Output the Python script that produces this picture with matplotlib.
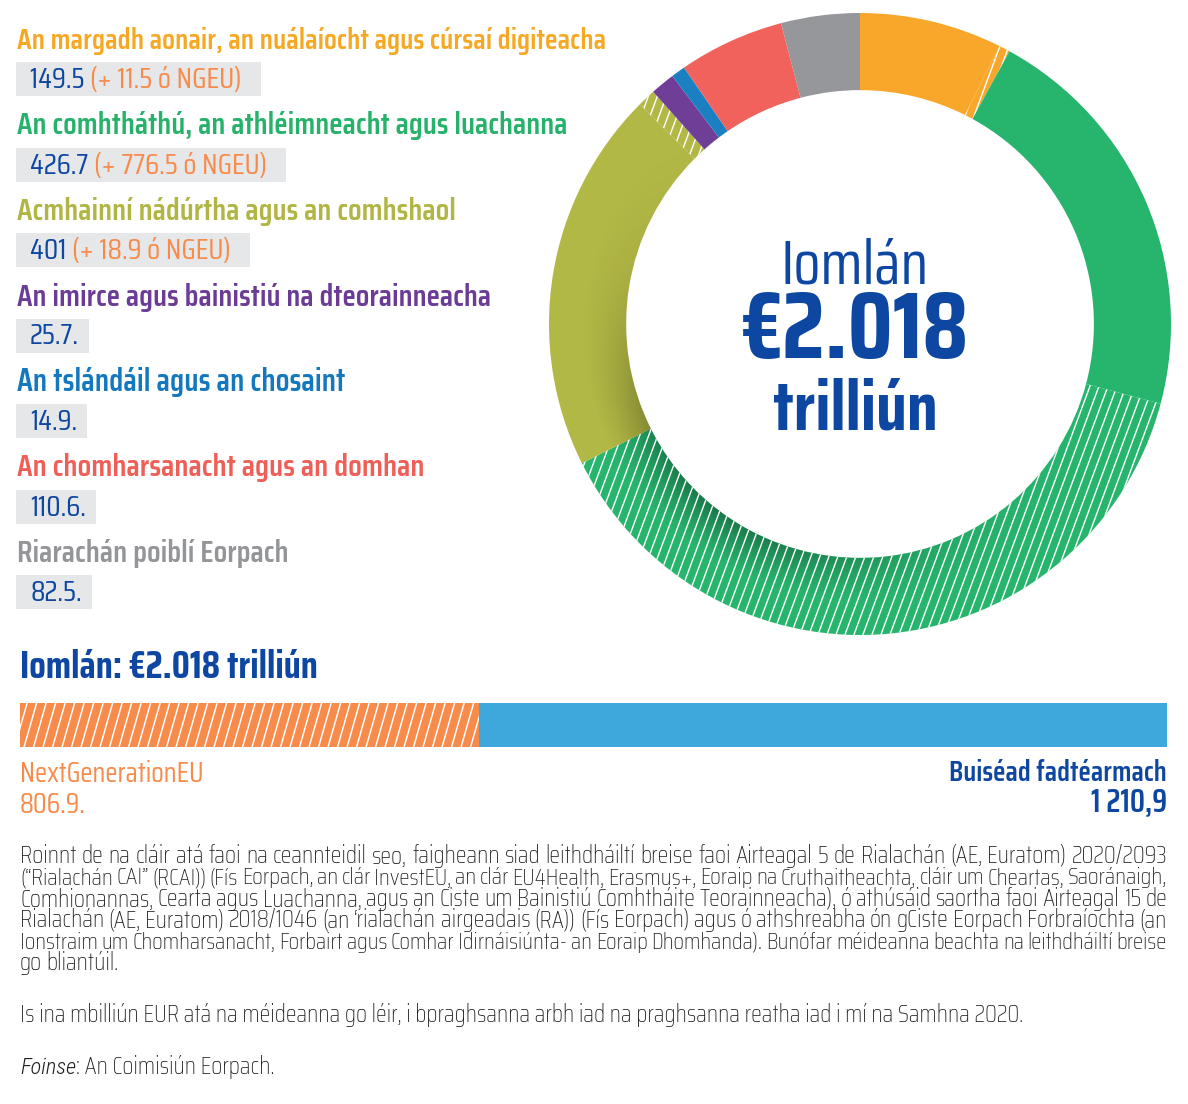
import numpy as np
import matplotlib
matplotlib.use("Agg")
from matplotlib import pyplot as plt
from matplotlib import font_manager
from matplotlib.collections import LineCollection
from matplotlib.patches import Rectangle, Wedge
from matplotlib.transforms import IdentityTransform

# ---- data (EUR billion, 2018 MFF + NextGenerationEU) ----
categories = [
    "An margadh aonair, an nuálaíocht agus cúrsaí digiteacha",
    "An comhtháthú, an athléimneacht agus luachanna",
    "Acmhainní nádúrtha agus an comhshaol",
    "An imirce agus bainistiú na dteorainneacha",
    "An tslándáil agus an chosaint",
    "An chomharsanacht agus an domhan",
    "Riarachán poiblí Eorpach",
]
mff_values = [149.5, 426.7, 401, 25.7, 14.9, 110.6, 82.5]
ngeu_values = [11.5, 776.5, 18.9, 0, 0, 0, 0]
cat_colors = ["#F9A72B", "#27B56E", "#B2B845", "#6F3F98", "#1B80C2", "#F0625B", "#96979B"]
text_colors = ["#F7A823", "#27B26C", "#B1B543", "#6B3C96", "#1478BE", "#EF5F57", "#939598"]

bar_labels = ["NextGenerationEU", "Buiséad fadtéarmach"]
bar_values = [806.9, 1210.9]

footnote = [
    "Roinnt de na cláir atá faoi na ceannteidil seo, faigheann siad leithdháiltí breise faoi Airteagal 5 de Rialachán (AE, Euratom) 2020/2093",
    "(“Rialachán CAI” (RCAI)) (Fís Eorpach, an clár InvestEU, an clár EU4Health, Erasmus+, Eoraip na Cruthaitheachta, cláir um Cheartas, Saoránaigh,",
    "Comhionannas, Cearta agus Luachanna, agus an Ciste um Bainistiú Comhtháite Teorainneacha), ó athúsáid saortha faoi Airteagal 15 de",
    "Rialachán (AE, Euratom) 2018/1046 (an ‘rialachán airgeadais (RA)) (Fís Eorpach) agus ó athshreabha ón gCiste Eorpach Forbraíochta (an",
    "Ionstraim um Chomharsanacht, Forbairt agus Comhar Idirnáisiúnta- an Eoraip Dhomhanda). Bunófar méideanna beachta na leithdháiltí breise",
    "go bliantúil.",
]
note2 = "Is ina mbilliún EUR atá na méideanna go léir, i bpraghsanna arbh iad na praghsanna reatha iad i mí na Samhna 2020."

DARK = "#0E47A1"
NGEU = "#F78B4B"
BOX = "#E6E7E8"
BARBLUE = "#3EA8DD"
FN = "#1E1E1E"

fonts = font_manager.fontManager.ttflist
avail = {f.name for f in fonts}
FONT = "DejaVu Sans"
for c in ["Saira Semi Condensed", "Saira Condensed", "Roboto Condensed", "Encode Sans Condensed",
          "PT Sans Narrow", "Fira Sans Condensed", "Liberation Sans Narrow"]:
    if c in avail:
        FONT = c
        break
ITAL = FONT
italic_fams = {f.name for f in fonts if f.style == "italic"}
for c in [FONT, "Saira Condensed", "Roboto Condensed", "Fira Sans Condensed", "PT Sans Narrow",
          "Saira", "Roboto", "DejaVu Sans"]:
    if c in italic_fams:
        ITAL = c
        break
plt.rcParams["font.family"] = [FONT, "DejaVu Sans"]

W, H = 1188, 1104
fig = plt.figure(figsize=(W / 100, H / 100), dpi=100)
renderer = fig.canvas.get_renderer()

ov = fig.add_axes([0, 0, 1, 1], zorder=10)
ov.set_xlim(0, W)
ov.set_ylim(H, 0)
ov.axis("off")


def width_of(s, size, **kw):
    t = ov.text(0, 0, s, fontsize=size, **kw)
    w = t.get_window_extent(renderer).width
    t.remove()
    return w


def fit(s, target, **kw):
    return 20 * target / width_of(s, 20, **kw)


def hatch(ax, patch, spacing=9.0, slope=2.7, lw=1.4):
    # white diagonal lines clipped to the patch, in pixel space
    dx = H / slope
    xs = np.arange(-dx, W + spacing, spacing)
    segs = [[(x, 0), (x + dx, H)] for x in xs]
    lc = LineCollection(segs, colors="white", linewidths=lw * 0.72,
                        transform=IdentityTransform(), zorder=3)
    ax.add_collection(lc, autolim=False)
    lc.set_clip_path(patch)


# ---- donut ----
cx, cy, R = 860, 324, 311
ring_w = 0.248
pax = fig.add_axes([(cx - R) / W, 1 - (cy + R) / H, 2 * R / W, 2 * R / H])
vals, cols, hatched = [], [], []
for m, n, c in zip(mff_values, ngeu_values, cat_colors):
    vals.append(m); cols.append(c); hatched.append(False)
    if n > 0:
        vals.append(n); cols.append(c); hatched.append(True)
wedges, _ = pax.pie(vals, colors=cols, startangle=90, counterclock=False, radius=1,
                    wedgeprops=dict(width=ring_w, linewidth=0))

# soft inner shadow on the lower-left part of the ring
g = np.linspace(-1, 1, 700)
gx, gy = np.meshgrid(g, g)
rr = np.hypot(gx, gy)
th = np.degrees(np.arctan2(gy, gx)) % 360
inner = 1 - ring_w
radial = np.clip((0.9 - rr) / (0.9 - inner), 0, 1) ** 1.3
ang = np.exp(-((th - 232) / 48) ** 2)
shade = np.zeros(gx.shape + (4,))
shade[..., 3] = 0.34 * radial * ang
ring = Wedge((0, 0), 1, 0, 360, width=ring_w, transform=pax.transData)
im = pax.imshow(shade, extent=(-1, 1, -1, 1), origin="lower", zorder=2, interpolation="bilinear")
im.set_clip_path(ring)
pax.set_xlim(-1, 1)
pax.set_ylim(-1, 1)
pax.axis("off")

for w, h in zip(wedges, hatched):
    if h:
        hatch(pax, w)

total = sum(mff_values) + sum(ngeu_values)
ov.text(cx - 5, 283, "Iomlán", fontsize=fit("Iomlán", 148), color=DARK, ha="center", va="baseline")
big = "€%.3f" % (total / 1000)
ov.text(cx - 5, 358, big, fontsize=fit(big, 228, weight="bold"), weight="bold", color=DARK,
        ha="center", va="baseline")
ov.text(cx - 5, 430, "trilliún", fontsize=fit("trilliún", 165, weight="bold"), weight="bold",
        color=DARK, ha="center", va="baseline")

# ---- left labels ----
title_w = [589, 551, 439, 475, 328, 408, 272]   # widths measured on the reference
vsize = fit("149.5 (+ 11.5 ó NGEU)", 212)
for i, (cat, m, n) in enumerate(zip(categories, mff_values, ngeu_values)):
    ty = 49 + i * 85.5
    ov.text(17, ty, cat, fontsize=fit(cat, title_w[i], weight="semibold"), weight="semibold",
            color=text_colors[i], va="baseline")
    by = ty + 30
    if n > 0:
        s1 = "%g " % m
        s2 = "(+ %g ó NGEU)" % n
        w1 = width_of(s1, vsize)
        w2 = width_of(s2, vsize)
        ov.add_patch(Rectangle((16, by - 17), 14 + w1 + w2 + 19, 34, color=BOX, lw=0))
        ov.text(30, by + 9, s1, fontsize=vsize, color=DARK, va="baseline")
        ov.text(30 + w1, by + 9, s2, fontsize=vsize, color=NGEU, va="baseline")
    else:
        s1 = "%g." % m
        w1 = width_of(s1, vsize)
        ov.add_patch(Rectangle((16, by - 17), 14 + w1 + 10, 34, color=BOX, lw=0))
        ov.text(30, by + 9, s1, fontsize=vsize, color=DARK, va="baseline")

# ---- total bar ----
head = "Iomlán: %s trilliún" % big
ov.text(20, 678, head, fontsize=fit(head, 298, weight="bold"), weight="bold", color=DARK, va="baseline")

bx0, bx1, by0, by1 = 20, 1167, 703, 747
bax = fig.add_axes([bx0 / W, 1 - by1 / H, (bx1 - bx0) / W, (by1 - by0) / H])
bars = bax.barh([0, 0], bar_values, left=[0, bar_values[0]], height=1,
                color=[NGEU, BARBLUE], linewidth=0)
bax.set_xlim(0, sum(bar_values))
bax.set_ylim(-0.5, 0.5)
bax.axis("off")
hatch(bax, bars[0], spacing=9.5, slope=3.5, lw=1.5)

lsize = fit(bar_labels[0], 183)
ov.text(20, 782, bar_labels[0], fontsize=lsize, color=NGEU, va="baseline")
ov.text(20, 813, "%.1f." % bar_values[0], fontsize=lsize, color=NGEU, va="baseline")
ov.text(1167, 781, bar_labels[1], fontsize=fit(bar_labels[1], 218, weight="semibold"),
        weight="semibold", color=DARK, ha="right", va="baseline")
lt = format(bar_values[1], ",.1f").replace(",", " ").replace(".", ",")
ov.text(1167, 811, lt, fontsize=fit(lt, 76, weight="semibold"), weight="semibold", color=DARK,
        ha="right", va="baseline")

# ---- footnotes (justified) ----
fsize = fit(note2, 1008, weight="light")
for k, line in enumerate(footnote):
    y = 863 + k * 21.4
    words = line.split(" ")
    size = fsize
    ws = [width_of(w, size, weight="light") for w in words]
    space = width_of("a b", size, weight="light") - width_of("ab", size, weight="light")
    natural = sum(ws) + 0.8 * space * (len(words) - 1)
    if natural > 1147:
        size = size * 1147 / natural
        ws = [width_of(w, size, weight="light") for w in words]
        space *= 1147 / natural
    if k == len(footnote) - 1:
        gap = space
    else:
        gap = (1167 - 20 - sum(ws)) / (len(words) - 1)
    x = 20
    for w, wd in zip(words, ws):
        ov.text(x, y, w, fontsize=size, weight="light", color=FN, va="baseline")
        x += wd + gap
ov.text(20, 1022, note2, fontsize=fsize, weight="light", color=FN, va="baseline")
isize = max(0.9 * fsize, min(fsize, fit("Foinse", 56, family=ITAL, weight="light", style="italic")))
fw = width_of("Foinse", isize, family=ITAL, weight="light", style="italic")
ov.text(20, 1074, "Foinse", fontsize=isize, family=ITAL, weight="light", style="italic",
        color=FN, va="baseline")
ov.text(20 + fw, 1074, ": An Coimisiún Eorpach.", fontsize=fsize, weight="light", color=FN,
        va="baseline")

fig.savefig("out.png", dpi=100)
